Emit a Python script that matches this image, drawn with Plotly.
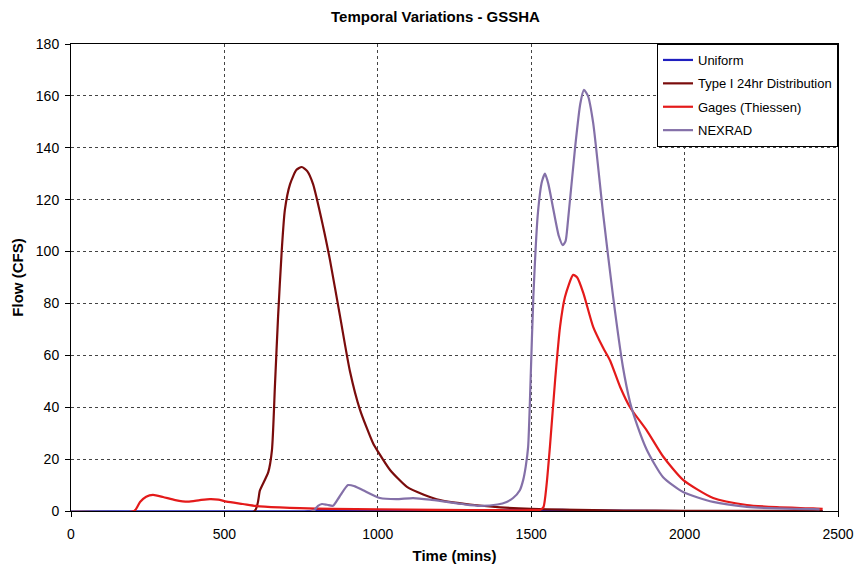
import plotly.graph_objects as go

# Time (mins) and flow (CFS)
uniform_t = [0, 780, 800, 1000, 1500, 1600, 1700, 2000, 2450]
uniform_q = [0, 0, 0.3, 0.3, 0.3, 0.4, 0.2, 0.0, 0.0]

type1_t = [0, 598, 616, 643, 655, 665, 675, 687, 697, 714, 735, 752, 770, 789, 822, 844, 877, 909, 942, 985, 1000, 1040, 1095, 1150, 1203, 1300, 1400, 1500, 1600, 1800, 2000, 2450]
type1_q = [0, 0, 8, 15, 23.5, 49, 75, 100.6, 116, 126, 131.5, 132.6, 131, 126, 109.5, 96.8, 75, 54, 39, 26, 23, 15.8, 9.3, 6.3, 4.2, 2.5, 1.4, 0.8, 0.5, 0.2, 0.1, 0.0]

gages_t = [0, 206, 225, 245, 267, 300, 340, 381, 420, 453, 480, 507, 560, 606, 680, 746, 850, 1000, 1200, 1400, 1500, 1530, 1540, 1550, 1561, 1578, 1594, 1610, 1637, 1650, 1670, 1702, 1734, 1757, 1790, 1822, 1877, 1930, 1995, 2093, 2203, 2300, 2419, 2450]
gages_q = [0, 0, 3.5, 5.5, 6.2, 5.4, 4.2, 3.6, 4.2, 4.6, 4.4, 3.6, 2.7, 1.9, 1.4, 1.1, 0.8, 0.6, 0.4, 0.3, 0.3, 0.5, 1.5, 10, 24.7, 50.5, 71, 82.5, 91, 90, 84, 71, 63, 58, 47.8, 40, 31, 21, 12, 5, 2.3, 1.5, 1.0, 0.8]

nexrad_t = [0, 789, 805, 818, 835, 854, 875, 903, 925, 952, 1007, 1060, 1115, 1170, 1225, 1280, 1333, 1390, 1420, 1441, 1463, 1474, 1482, 1490, 1498, 1507, 1522, 1535, 1545, 1556, 1571, 1590, 1603, 1612, 1620, 1643, 1660, 1672, 1685, 1702, 1734, 1767, 1799, 1822, 1832, 1877, 1930, 1995, 2093, 2203, 2300, 2419, 2440]
nexrad_q = [0, 0, 2.0, 2.7, 2.4, 2.0, 5.5, 10, 9.5, 8, 5, 4.6, 5, 4.4, 3.5, 2.6, 2, 2.5, 3.5, 5, 8, 12, 17, 24.7, 50.5, 82.5, 115, 127, 130, 126, 117, 106, 102.5, 104, 112, 140, 157, 162.3, 160, 149.6, 115, 82.5, 55.5, 42, 37.8, 23.5, 13, 7.3, 3.5, 1.6, 1.0, 0.7, 0.6]

x_ticks = [0, 500, 1000, 1500, 2000, 2500]
y_ticks = [0, 20, 40, 60, 80, 100, 120, 140, 160, 180]

FONT = "Arial, Liberation Sans, sans-serif"

fig = go.Figure()
series = [
    ("Uniform", uniform_t, uniform_q, "#1f1fbf"),
    ("Type I 24hr Distribution", type1_t, type1_q, "#7a0c0c"),
    ("Gages (Thiessen)", gages_t, gages_q, "#e41a1a"),
    ("NEXRAD", nexrad_t, nexrad_q, "#8470a8"),
]
for name, t, q, c in series:
    fig.add_trace(go.Scatter(x=t, y=q, mode="lines", name=name, legendgroup=name,
                             line=dict(color=c, width=2.2, shape="spline", smoothing=0.6)))

axis_common = dict(showline=True, linecolor="black", linewidth=1, mirror=True,
                   ticks="outside", ticklen=5, tickcolor="black",
                   showgrid=True, gridcolor="#444444", griddash="dot", gridwidth=1,
                   zeroline=False, automargin=False,
                   tickfont=dict(family=FONT, size=14, color="black"))

W, H = 855, 566
fig.update_layout(
    width=W, height=H,
    margin=dict(l=63, r=25, t=36, b=63),
    paper_bgcolor="white", plot_bgcolor="white",
    title=dict(text="<b>Temporal Variations - GSSHA</b>", x=0.5, xanchor="center",
               y=1 - 9 / H, yanchor="middle",
               font=dict(family=FONT, size=15, color="black")),
    xaxis=dict(range=[0, 2500], tickvals=x_ticks, ticklabelstandoff=5,
               title=dict(text="<b>Time (mins)</b>", font=dict(family=FONT, size=15, color="black"), standoff=9),
               **axis_common),
    yaxis=dict(range=[0, 180], tickvals=y_ticks, ticklabelstandoff=3,
               title=dict(text="<b>Flow (CFS)</b>", font=dict(family=FONT, size=15, color="black"), standoff=8),
               **axis_common),
    legend=dict(x=1, xanchor="right", y=1, yanchor="top", bgcolor="white",
                bordercolor="black", borderwidth=1,
                font=dict(family=FONT, size=13, color="black"),
                itemwidth=30, tracegroupgap=3.5),
    showlegend=True,
)

fig.write_html("out.html")
